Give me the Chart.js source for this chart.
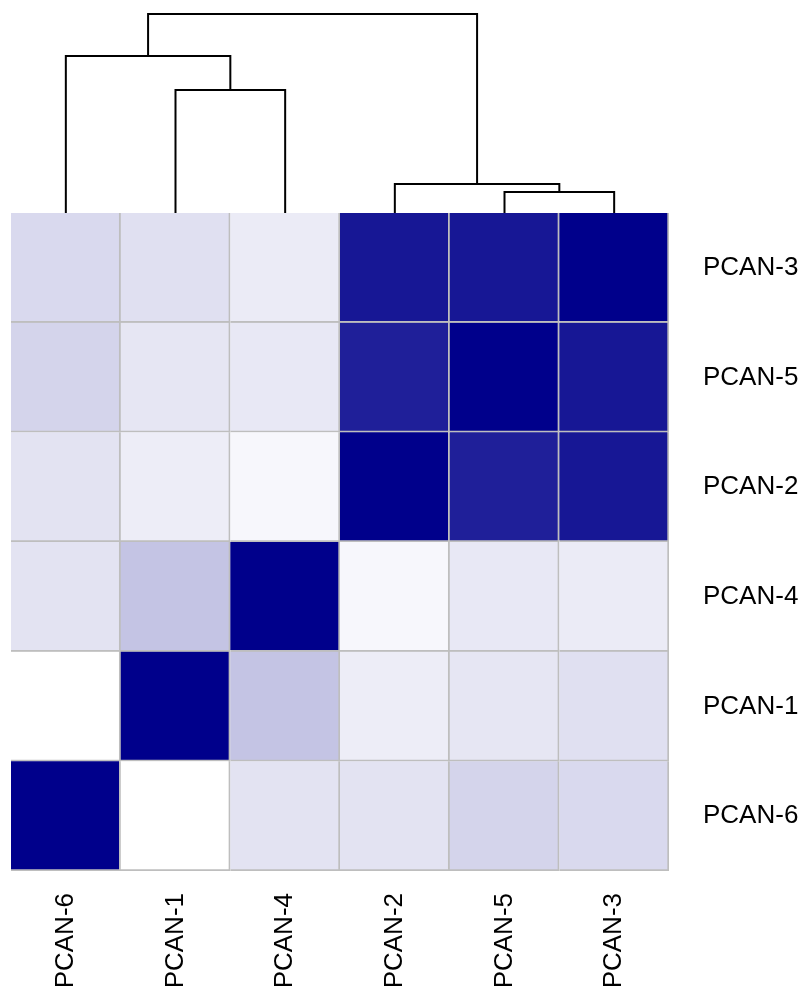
<!DOCTYPE html>
<html>
<head>
<meta charset="utf-8">
<script src="https://cdn.jsdelivr.net/npm/chart.js@4.4.1/dist/chart.umd.min.js"></script>
<style>
  html, body { margin: 0; padding: 0; background: #fff; }
  #wrap { width: 805px; height: 995px; }
</style>
</head>
<body>
<div id="wrap"><canvas id="chart"></canvas></div>
<script>
// column order (left to right) and row order (bottom to top)
const colLabels = ["PCAN-6", "PCAN-1", "PCAN-4", "PCAN-2", "PCAN-5", "PCAN-3"];
const rowLabels = ["PCAN-6", "PCAN-1", "PCAN-4", "PCAN-2", "PCAN-5", "PCAN-3"];

// similarity, one array per row (bottom to top), columns as colLabels
const rowPCAN6 = [1.00, 0.00, 0.11, 0.11, 0.17, 0.15];
const rowPCAN1 = [0.00, 1.00, 0.23, 0.07, 0.10, 0.12];
const rowPCAN4 = [0.11, 0.23, 1.00, 0.03, 0.09, 0.08];
const rowPCAN2 = [0.11, 0.07, 0.03, 1.00, 0.88, 0.91];
const rowPCAN5 = [0.17, 0.10, 0.09, 0.88, 1.00, 0.91];
const rowPCAN3 = [0.15, 0.12, 0.08, 0.91, 0.91, 1.00];
const matrix = [rowPCAN6, rowPCAN1, rowPCAN4, rowPCAN2, rowPCAN5, rowPCAN3];

// dendrogram merges: [left, right, height]; leaves are column indexes,
// "m0".."m4" refer to earlier merges
const merges = [
  [4, 5, 0.15],
  [3, "m0", 0.23],
  [1, 2, 1.17],
  [0, "m2", 1.51],
  ["m3", "m1", 1.93]
];

function cellColor(v) {
  // white -> darkblue
  const r = Math.round(255 * (1 - v));
  const g = Math.round(255 * (1 - v));
  const b = Math.round(255 + (139 - 255) * v);
  return `rgb(${r},${g},${b})`;
}

const heatSets = matrix.map((row, r) => ({
  type: "bar",
  label: rowLabels[r],
  data: row.map(() => [r, r + 1]),
  backgroundColor: row.map(cellColor),
  borderColor: "#bebebe",
  borderWidth: { top: 0, left: 0, right: 2, bottom: 2 },
  borderSkipped: false,
  grouped: false,
  barPercentage: 1,
  categoryPercentage: 1,
  xAxisID: "x",
  yAxisID: "y"
}));

// build the dendrogram segments from the merges
const nodes = {};
const treePts = [];
function node(k) {
  if (typeof k === "number") return { x: k, h: 0 };
  return nodes[k];
}
merges.forEach((m, i) => {
  const a = node(m[0]), b = node(m[1]), h = m[2];
  treePts.push({ x: a.x, y: a.h }, { x: a.x, y: h }, { x: b.x, y: h }, { x: b.x, y: b.h }, { x: null, y: null });
  nodes["m" + i] = { x: (a.x + b.x) / 2, h: h };
});
// leaf stubs
colLabels.forEach((c, i) => {
  treePts.push({ x: i, y: 0 }, { x: i, y: -0.06 }, { x: null, y: null });
});

new Chart(document.getElementById("chart"), {
  data: {
    labels: colLabels,
    datasets: [
      ...heatSets,
      {
        type: "line",
        label: "tree",
        data: treePts,
        borderColor: "#000",
        borderWidth: 2,
        pointRadius: 0,
        tension: 0,
        spanGaps: false,
        xAxisID: "x2",
        yAxisID: "y2"
      }
    ]
  },
  options: {
    responsive: true,
    maintainAspectRatio: false,
    animation: false,
    layout: { padding: { top: 8, left: 11, right: 0, bottom: 0 } },
    plugins: {
      legend: { display: false },
      tooltip: { enabled: false }
    },
    scales: {
      x: {
        type: "category",
        position: "bottom",
        offset: true,
        grid: { display: false, drawTicks: false },
        border: { display: false },
        ticks: {
          autoSkip: false,
          minRotation: 90,
          maxRotation: 90,
          padding: 22,
          color: "#000",
          font: { family: "Arial, 'Liberation Sans'", size: 26 }
        },
        afterFit: s => {
          s.height = 124;
          s.paddingLeft = 0;
          s.paddingRight = 0;
        }
      },
      x2: {
        type: "linear",
        display: false,
        min: -0.5,
        max: 5.5
      },
      y: {
        type: "linear",
        position: "right",
        min: 0,
        max: 7.87,
        grid: { display: false, drawTicks: false },
        border: { display: false },
        afterBuildTicks: s => {
          s.ticks = rowLabels.map((l, i) => ({ value: i + 0.5 }));
        },
        ticks: {
          padding: 34,
          color: "#000",
          font: { family: "Arial, 'Liberation Sans'", size: 26 },
          callback: v => rowLabels[Math.floor(v)]
        },
        afterFit: s => {
          s.width = 136;
          s.paddingTop = 0;
          s.paddingBottom = 0;
        }
      },
      y2: {
        type: "linear",
        display: false,
        min: -6.64,
        max: 1.99
      }
    }
  }
});
</script>
</body>
</html>
